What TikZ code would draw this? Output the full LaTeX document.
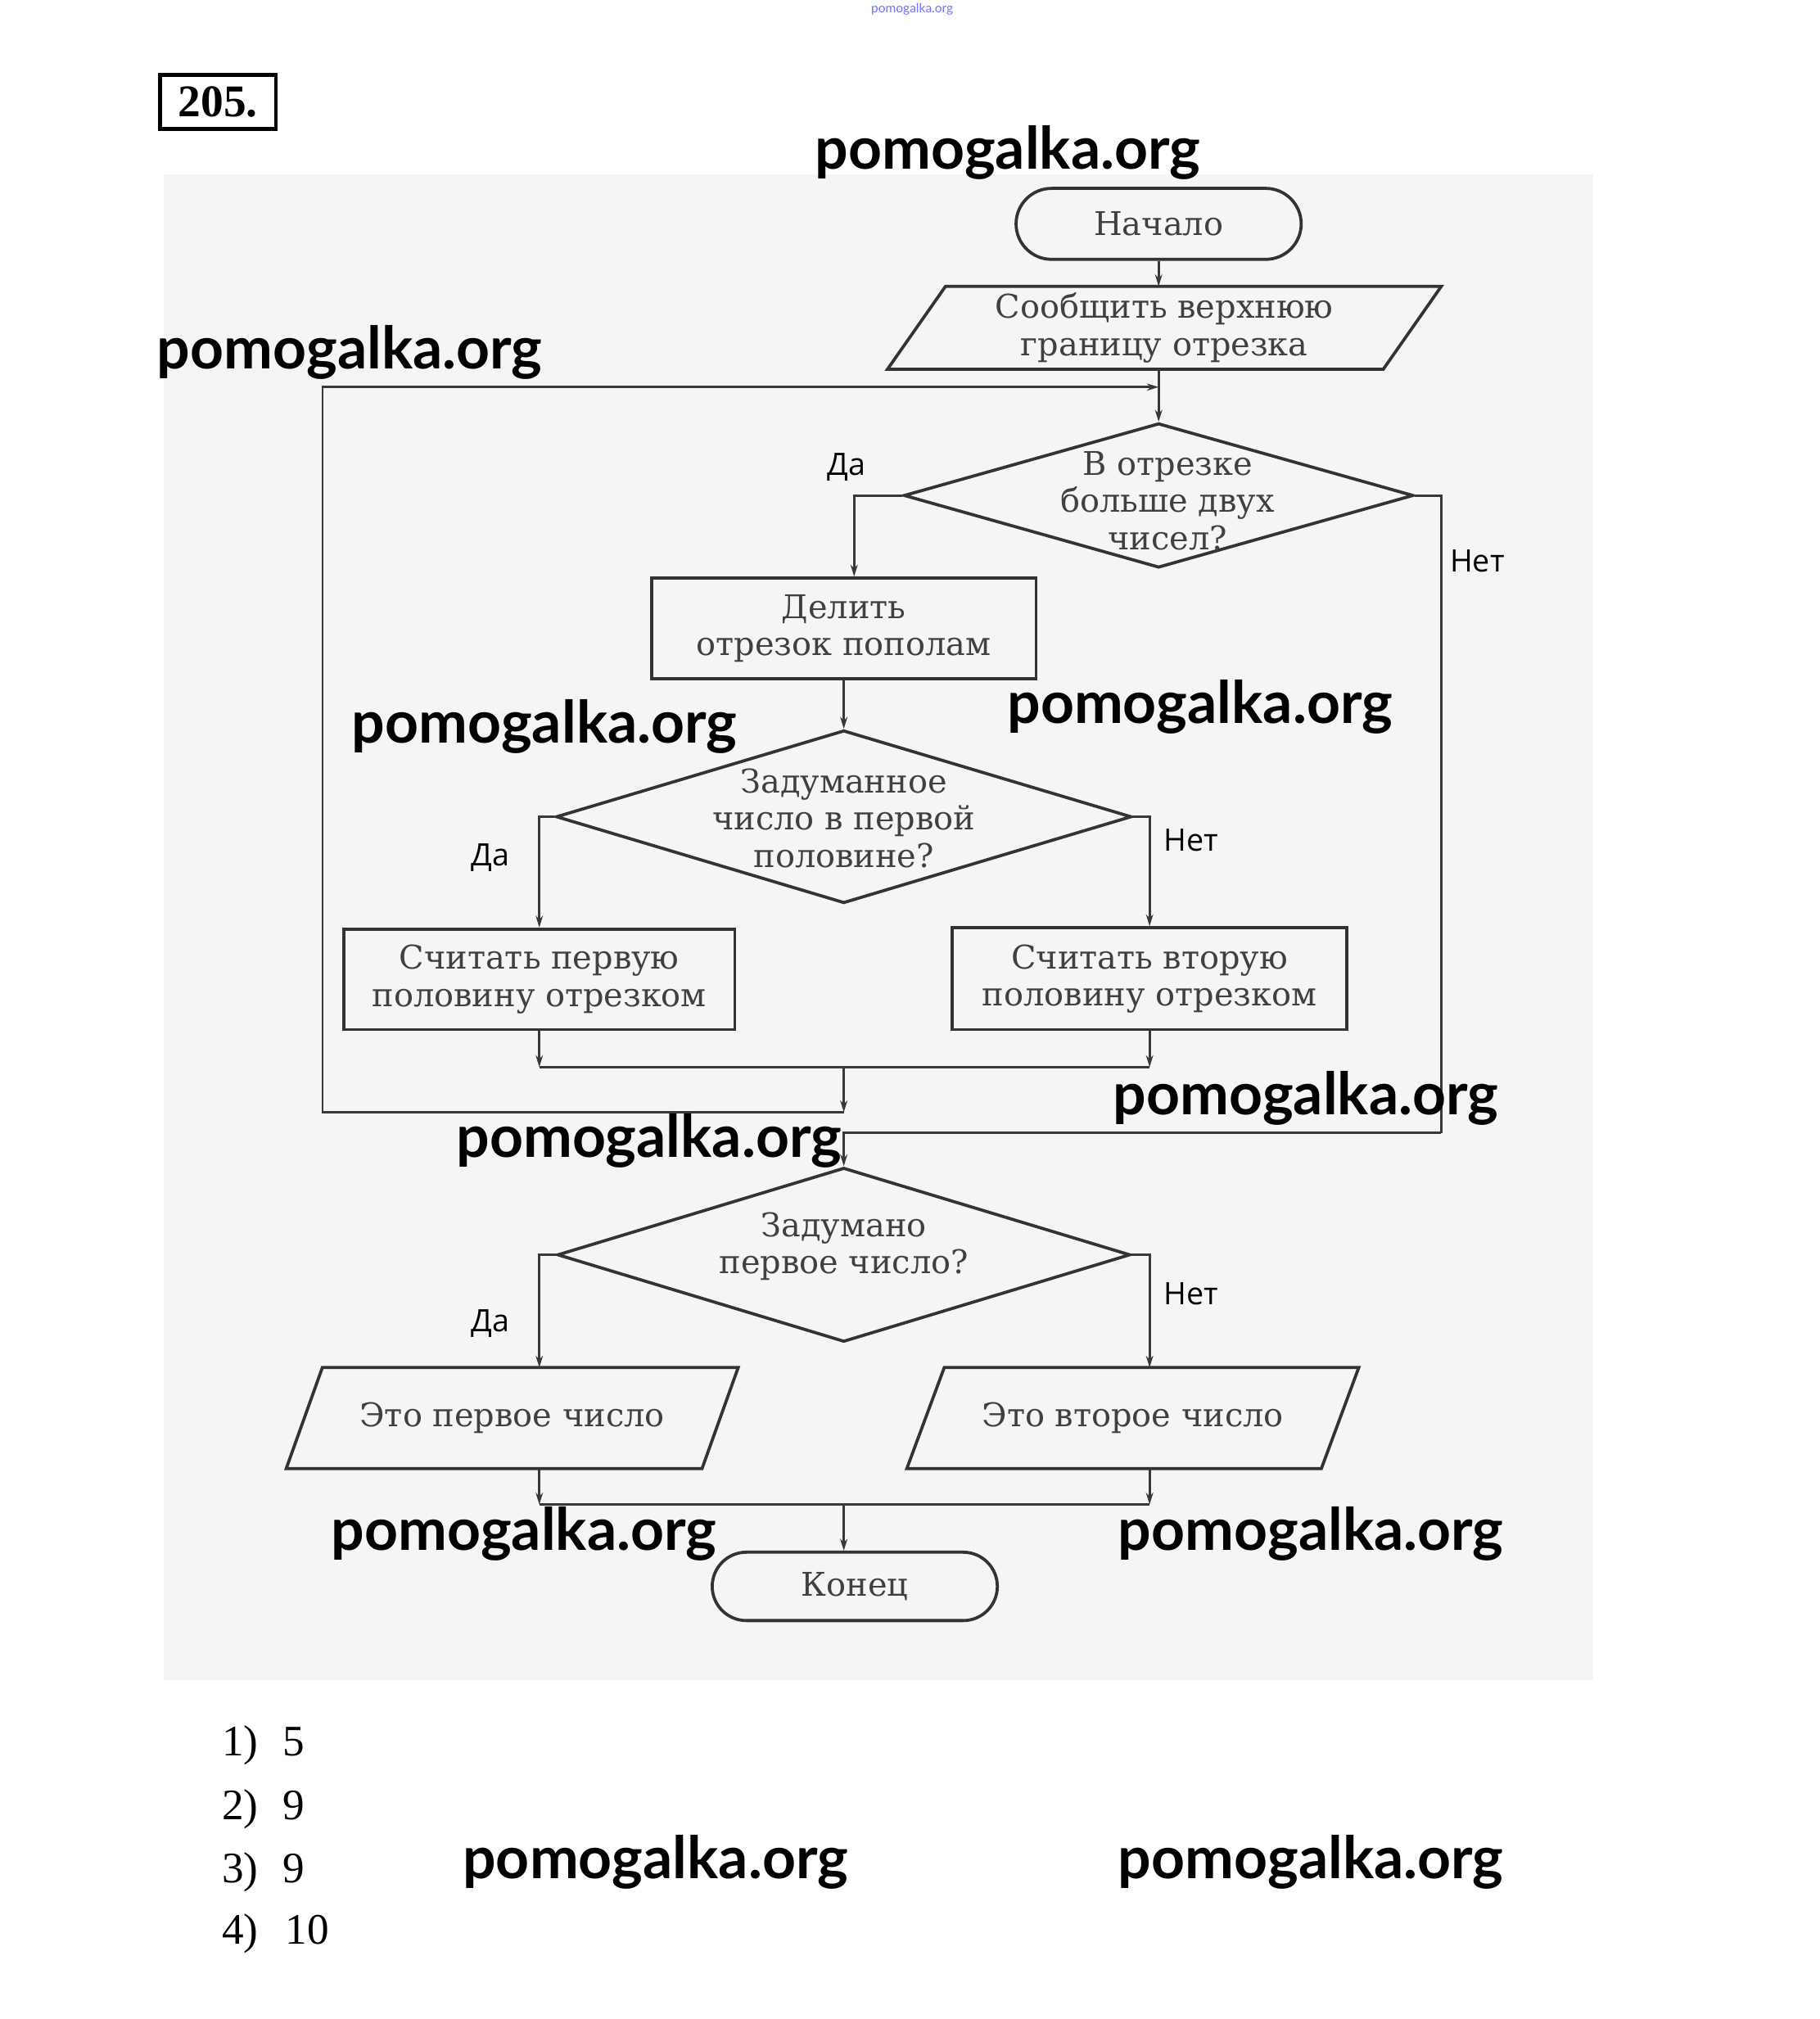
\documentclass[tikz,border=0pt]{standalone}
\usepackage{fontspec}
\setmainfont{Liberation Serif}
\newfontfamily\serfont{DejaVu Serif}
\newfontfamily\wmfont{Lato}
\newfontfamily\labfont{Open Sans}
\usetikzlibrary{shapes.geometric,shapes.misc,arrows.meta}
\newdimen\U \U=0.05cm
\newcommand\ftfont{\serfont\fontsize{36}{41}\selectfont}
\definecolor{bgray}{HTML}{F5F5F5}
\begin{document}
\begin{tikzpicture}[x=0.05cm,y=-0.05cm,
 conn/.style={draw=black!78, line width=2.6pt},
 arr/.style={conn, -{Stealth[length=13pt,width=8pt]}},
 shp/.style={draw=black!80, line width=3.4pt},
 ftxt/.style={font=\ftfont, text=black!75, align=center, inner sep=0pt},
 boxs/.style={shp, ftxt, rectangle},
 term/.style={shp, ftxt, rounded rectangle},
 dia/.style={shp, diamond, inner sep=0pt},
 lab/.style={font=\labfont\fontsize{34}{34}\selectfont, text=black},
 wm/.style={font=\wmfont\bfseries\fontsize{64.5}{64.5}\selectfont, text=black},
 ans/.style={font=\fontsize{48}{48}\selectfont, text=black, anchor=base west, inner sep=0pt}
]
\useasboundingbox (0,0) rectangle (1410,1564.8);
\fill[white] (0,0) rectangle (1410,1564.8);
\fill[bgray] (127,135) rectangle (1235,1302);

\node[font=\wmfont\fontsize{14}{14}\selectfont, text=blue!55] (wm0) at (707,7) {pomogalka.org};
\node[draw, line width=4pt, inner sep=0pt, minimum width=90*\U, minimum height=42*\U,
      font=\fontsize{50}{50}\selectfont\bfseries] (num) at (169,79) {205.};

% shapes
\node[term, minimum width=221*\U, minimum height=55*\U] (start) at (898,173.5) {Начало};
\node[ftxt, minimum width=384*\U, minimum height=64*\U] (p1) at (902.5,254) {Сообщить верхнюю\\границу отрезка};
\draw[shp] ([xshift=22.5*\U]p1.north west) -- ([xshift=22.5*\U]p1.north east)
  -- ([xshift=-22.5*\U]p1.south east) -- ([xshift=-22.5*\U]p1.south west) -- cycle;

\node[dia, minimum width=395*\U, minimum height=112*\U] (d1) at (898,384) {};
\node[ftxt] (d1t) at (905,388) {В отрезке\\больше двух\\чисел?};

\node[boxs, minimum width=298*\U, minimum height=78*\U] (b1) at (654,487) {Делить\\отрезок пополам};

\node[dia, minimum width=446*\U, minimum height=134*\U] (d2) at (654,633) {};
\node[ftxt] (d2t) at (654,634) {Задуманное\\число в первой\\половине?};

\node[boxs, minimum width=303*\U, minimum height=78*\U] (b2) at (418,759) {Считать первую\\половину отрезком};
\node[boxs, minimum width=306*\U, minimum height=79*\U] (b3) at (891,758.5) {Считать вторую\\половину отрезком};

\node[dia, minimum width=444*\U, minimum height=135*\U] (d3) at (654,972.5) {};
\node[ftxt] (d3t) at (654,966) {Задумано\\первое число?};

\node[ftxt, minimum width=322*\U, minimum height=78*\U] (o1) at (397,1099) {Это первое число};
\draw[shp] ([xshift=14*\U]o1.north west) -- ([xshift=14*\U]o1.north east)
  -- ([xshift=-14*\U]o1.south east) -- ([xshift=-14*\U]o1.south west) -- cycle;
\node[ftxt, minimum width=321*\U, minimum height=78*\U] (o2) at (878,1099) {Это второе число};
\draw[shp] ([xshift=14.5*\U]o2.north west) -- ([xshift=14.5*\U]o2.north east)
  -- ([xshift=-14.5*\U]o2.south east) -- ([xshift=-14.5*\U]o2.south west) -- cycle;

\node[term, minimum width=221*\U, minimum height=53*\U] (end) at (662.5,1229.5) {Конец};

% coordinates
\coordinate (lp) at (898,300);
\coordinate (nr) at (1117,878);
\coordinate (m1) at (654,827);
\coordinate (lpb) at (654,862);
\coordinate (lc1) at (250,862);
\coordinate (lc2) at (250,300);
\coordinate (m2) at (654,1166);

% connectors
\draw[arr] (start.south) -- (start.south |- p1.north);
\draw[arr] (start.south |- p1.south) -- (d1.north);
\draw[arr] (d1.west) -| ([xshift=8*\U]b1.north);
\draw[conn] (d1.east) -| (nr);
\draw[arr] (nr) -| (d3.north);
\draw[arr] (b1.south) -- (d2.north);
\draw[arr] (d2.west) -| (b2.north);
\draw[arr] (d2.east) -| (b3.north);
\draw[arr] (b2.south) -- (b2.south |- m1);
\draw[arr] (b3.south) -- (b3.south |- m1);
\draw[conn] (b2.south |- m1) -- (b3.south |- m1);
\draw[arr] (m1) -- (lpb);
\draw[arr] (lpb) -- (lc1) -- (lc2) -- (lp);
\draw[arr] (d3.west) -| ([xshift=21*\U]o1.north);
\draw[arr] (d3.east) -| ([xshift=13*\U]o2.north);
\draw[arr] ([xshift=21*\U]o1.south) -- ([xshift=21*\U]o1.south |- m2);
\draw[arr] ([xshift=13*\U]o2.south) -- ([xshift=13*\U]o2.south |- m2);
\draw[conn] ([xshift=21*\U]o1.south |- m2) -- ([xshift=13*\U]o2.south |- m2);
\draw[arr] (m2) -- (m2 |- end.north);

% labels
\node[lab] (l1) at (656,362) {Да};
\node[lab] (l2) at (1145,435) {Нет};
\node[lab] (l3) at (380,665) {Да};
\node[lab] (l4) at (923,651) {Нет};
\node[lab] (l5) at (380,1026) {Да};
\node[lab] (l6) at (923,1003) {Нет};

% answers
\node[ans] (a1) at (172,1361) {1)};
\node[ans] (a1v) at (219,1361) {5};
\node[ans] (a2) at (172,1410) {2)};
\node[ans] (a2v) at (219,1410) {9};
\node[ans] (a3) at (172,1459) {3)};
\node[ans] (a3v) at (219,1459) {9};
\node[ans] (a4) at (172,1507) {4)};
\node[ans] (a4v) at (221,1507) {10};

% watermarks
\node[wm] (w1) at (781,118) {pomogalka.org};
\node[wm] (w2) at (271,273) {pomogalka.org};
\node[wm] (w3) at (422,563) {pomogalka.org};
\node[wm] (w4) at (930,548) {pomogalka.org};
\node[wm] (w5) at (1012,851) {pomogalka.org};
\node[wm] (w6) at (503,884) {pomogalka.org};
\node[wm] (w7) at (406,1189) {pomogalka.org};
\node[wm] (w8) at (1016,1189) {pomogalka.org};
\node[wm] (w9) at (508,1443) {pomogalka.org};
\node[wm] (w10) at (1016,1443) {pomogalka.org};
\end{tikzpicture}
\end{document}
